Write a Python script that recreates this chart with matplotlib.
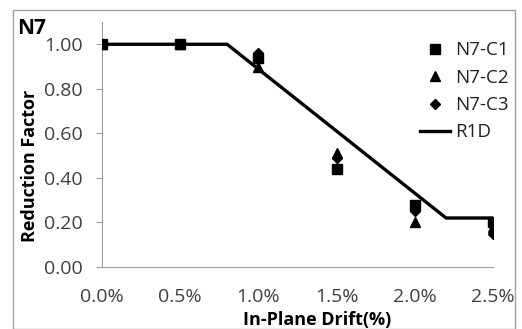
import numpy as np
import matplotlib
matplotlib.use('Agg')
import matplotlib.pyplot as plt
from matplotlib.patches import Rectangle

# Datos
drift = [0.0, 0.5, 1.0, 1.5, 2.0, 2.5]
c1 = [1.00, 1.00, 0.94, 0.44, 0.28, 0.20]
c2 = [1.00, 1.00, 0.90, 0.51, 0.20, 0.18]
c3 = [1.00, 1.00, 0.96, 0.49, 0.25, 0.15]
r1d_x = [0.0, 0.8, 2.2, 2.5]
r1d_y = [1.00, 1.00, 0.22, 0.22]
xticks = [0.0, 0.5, 1.0, 1.5, 2.0, 2.5]
yticks = [0.0, 0.2, 0.4, 0.6, 0.8, 1.0]

plt.rcParams['font.family'] = ['Open Sans', 'DejaVu Sans']

fig = plt.figure(figsize=(5.22, 3.29), dpi=100)
ax = fig.add_axes([102/522, 1-267/329, (493-102)/522, (267-22)/329])

# Borde exterior del gráfico
fig.patches.append(Rectangle((13/522, 0.0), (515-13)/522, 1-10/329,
                             transform=fig.transFigure, fill=False,
                             edgecolor='#a0a0a0', linewidth=1.0))

ax.plot(r1d_x, r1d_y, color='black', linewidth=2.4, label='R1D', zorder=2)
ax.plot(drift, c1, 's', color='black', markersize=7, label='N7-C1', zorder=3)
ax.plot(drift, c2, '^', color='black', markersize=7, label='N7-C2', zorder=3)
ax.plot(drift, c3, 'D', color='black', markersize=5, label='N7-C3', zorder=3)

ax.set_xlim(0, 2.5)
ax.set_ylim(0, 1.1)
ax.set_xticks(xticks)
ax.set_xticklabels(['%.1f%%' % v for v in xticks])
ax.set_yticks(yticks)
ax.set_yticklabels(['%.2f' % v for v in yticks])
ax.tick_params(axis='x', length=0, pad=15, labelsize=14, colors='#404040')
ax.tick_params(axis='y', length=4, color='#a0a0a0', pad=10, labelsize=14, labelcolor='#404040')
ax.spines['top'].set_visible(False)
ax.spines['right'].set_visible(False)
ax.spines['left'].set_color('#a0a0a0')
ax.spines['bottom'].set_color('#a0a0a0')

ax.set_xlabel('In-Plane Drift(%)', fontsize=13, fontweight='bold', va='center')
ax.set_ylabel('Reduction Factor', fontsize=13, fontweight='bold', va='center')
ax.xaxis.set_label_coords((317-102)/(493-102), -(320-267)/(267-22))
ax.yaxis.set_label_coords(-(102-30)/(493-102), (267-166)/(267-22))
fig.text(17/522, 1-28/329, 'N7', fontsize=15, fontweight='bold', va='center')

handles, labels = ax.get_legend_handles_labels()
order = [1, 2, 3, 0]
ax.legend([handles[i] for i in order], [labels[i] for i in order],
          loc='upper left', bbox_to_anchor=(0.77, 0.99), frameon=False,
          fontsize=13.5, labelspacing=0.5, handlelength=1.6, handletextpad=0.3,
          labelcolor='#202020')

fig.savefig('out.png', dpi=100)
